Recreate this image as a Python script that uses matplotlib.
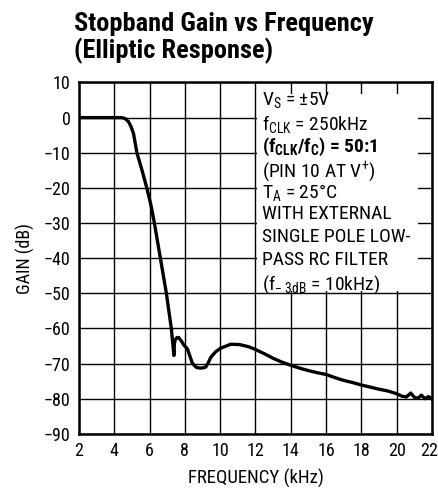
import matplotlib.pyplot as plt
from matplotlib.patches import Rectangle
from matplotlib.transforms import ScaledTranslation

plt.rcParams['font.family'] = ['Roboto Condensed', 'DejaVu Sans']
plt.rcParams['mathtext.fontset'] = 'custom'
plt.rcParams['mathtext.rm'] = 'Roboto Condensed'
plt.rcParams['mathtext.it'] = 'Roboto Condensed'
plt.rcParams['mathtext.bf'] = 'Roboto Condensed:bold'

# Curve
freq_khz = [2.0, 3.0, 4.0, 4.43, 4.62, 4.81, 4.95, 5.09, 5.28, 5.57, 5.84,
            6.08, 6.27, 6.44, 6.61, 6.78, 6.95, 7.09, 7.23, 7.38, 7.40, 7.45,
            7.55, 7.65, 7.8, 7.95, 8.14, 8.42, 8.65, 8.86, 9.05, 9.18, 9.3,
            9.47, 9.75, 10.04, 10.6, 11.1, 11.6, 12.0, 12.5, 13.0, 13.5, 14.0,
            14.5, 15.0, 15.5, 16.0, 16.5, 17.0, 17.5, 18.0, 18.5, 19.0, 19.5,
            20.0, 20.3, 20.55, 20.8, 21.0, 21.2, 21.4, 21.6, 21.8, 22.0]
gain_db = [0.0, 0.0, 0.0, 0.0, -0.3, -1.2, -2.6, -4.6, -10.0, -15.0, -20.0,
           -25.0, -30.0, -35.0, -40.0, -45.0, -50.0, -55.0, -60.0, -67.7,
           -64.5, -63.2, -62.6, -62.6, -63.6, -64.8, -65.8, -69.9, -71.1,
           -71.3, -71.2, -71.0, -70.0, -68.2, -66.6, -65.6, -64.5, -64.6,
           -65.2, -66.0, -67.2, -68.5, -69.6, -70.5, -71.3, -72.0, -72.6,
           -73.1, -74.0, -74.8, -75.4, -76.1, -76.7, -77.3, -77.8, -78.6,
           -79.3, -79.5, -78.4, -79.6, -79.9, -79.0, -80.0, -79.4, -80.1]

x_ticks = [2, 4, 6, 8, 10, 12, 14, 16, 18, 20, 22]
y_ticks = [10, 0, -10, -20, -30, -40, -50, -60, -70, -80, -90]

conditions = [
    r'V$_\mathrm{S}$ = ±5V',
    r'f$_\mathrm{CLK}$ = 250kHz',
    r'(f$_\mathbf{CLK}$/f$_\mathbf{C}$) = 50:1',
    r'(PIN 10 AT V$^\mathrm{+}$)',
    r'T$_\mathrm{A}$ = 25°C',
    'WITH EXTERNAL',
    'SINGLE POLE LOW-',
    'PASS RC FILTER',
    r'(f$_\mathrm{−\ 3dB}$ = 10kHz)',
]

fig = plt.figure(figsize=(4.39, 4.88), dpi=100)
ax = fig.add_axes([0.18, 0.111, 0.804, 0.720])

ax.set_xlim(2, 22)
ax.set_ylim(-90, 10)
ax.set_xticks(x_ticks)
ax.set_yticks(y_ticks)
ax.set_axisbelow(True)
ax.grid(True, color='black', linewidth=1.0)
ax.tick_params(length=0, labelsize=13, pad=6)
for s in ax.spines.values():
    s.set_linewidth(1.8)

# keep the last x label inside the figure, like the original
last = ax.get_xticklabels()[-1]
last.set_ha('right')
last.set_transform(last.get_transform() + ScaledTranslation(6 / 100, 0, fig.dpi_scale_trans))

# white area behind the conditions text
ax.add_patch(Rectangle((12.08, -49.3), 21.2 - 12.08, 6.7 + 49.3,
                       facecolor='white', edgecolor='none', zorder=1))

ax.plot(freq_khz, gain_db, color='black', linewidth=2.4, zorder=3,
        solid_joinstyle='round')

ax.set_xlabel('FREQUENCY (kHz)', fontsize=13.5, labelpad=6)
ax.set_ylabel('GAIN (dB)', fontsize=13, labelpad=6)

y = 7.9
for i, line in enumerate(conditions):
    ax.text(12.35, y, line, fontsize=14, va='top', ha='left', zorder=4,
            fontweight='bold' if i == 2 else 'normal')
    y -= 6.55

fig.text(0.169, 0.975, 'Stopband Gain vs Frequency\n(Elliptic Response)',
         fontsize=19, fontweight='bold', ha='left', va='top',
         linespacing=1.05)

fig.savefig('out.png', dpi=100)
